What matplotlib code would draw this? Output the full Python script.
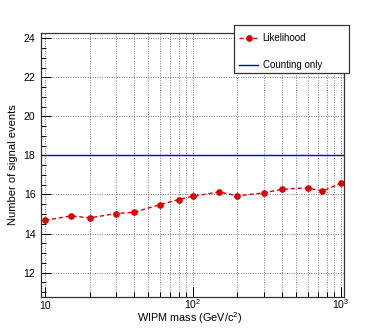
import numpy as np
import matplotlib
matplotlib.use("Agg")
import matplotlib.pyplot as plt
from matplotlib.ticker import LogLocator, MultipleLocator, FixedLocator, FixedFormatter, NullFormatter
from matplotlib.lines import Line2D
from matplotlib.patches import Rectangle

plt.rcParams['font.family'] = ['Liberation Sans', 'DejaVu Sans']
plt.rcParams['mathtext.fontset'] = 'custom'
plt.rcParams['mathtext.rm'] = 'Liberation Sans'

# 数据
mass = [10, 15, 20, 30, 40, 60, 80, 100, 150, 200, 300, 400, 600, 750, 1000]
likelihood = [14.68, 14.90, 14.80, 15.02, 15.09, 15.48, 15.74, 15.91, 16.13,
              15.93, 16.08, 16.27, 16.34, 16.17, 16.58]
counting_only = 18.0
xtick_pos = [10, 100, 1000]
xtick_lab = ["10", r"$\mathrm{10^2}$", r"$\mathrm{10^3}$"]

W, H = 382, 329
fig = plt.figure(figsize=(W / 100, H / 100), dpi=100)
ax = fig.add_axes([41 / W, 1 - 297 / H, 303 / W, 264 / H])

ax.set_xscale("log")
ax.set_xlim(9.4, 1050)
ax.set_ylim(10.75, 24.27)

# 网格
ax.xaxis.set_major_locator(FixedLocator(xtick_pos))
ax.xaxis.set_major_formatter(FixedFormatter(xtick_lab))
ax.xaxis.set_minor_locator(LogLocator(base=10, subs=np.arange(2, 10)))
ax.xaxis.set_minor_formatter(NullFormatter())
ax.yaxis.set_major_locator(MultipleLocator(2))
ax.yaxis.set_minor_locator(MultipleLocator(0.5))
grid_kw = dict(color="#777777", linestyle=(0, (1, 1.5)), linewidth=0.7)
ax.grid(True, which="both", axis="x", **grid_kw)
ax.grid(True, which="major", axis="y", **grid_kw)
ax.set_axisbelow(True)

ax.axhline(counting_only, color="#0000cc", linewidth=1.0)
ax.plot(mass, likelihood, color="#dd0000", linestyle="--", dashes=(3, 2),
        linewidth=1.0, marker="o", markersize=3.8)

ax.tick_params(which="both", direction="in", labelsize=7.5, width=0.7)
ax.tick_params(which="major", length=7)
ax.tick_params(which="minor", length=3.5)
ax.tick_params(axis="x", which="major", pad=8.6)
ax.tick_params(axis="y", which="major", pad=4)
for lab in ax.get_xticklabels():
    lab.set_va("baseline")
for s in ax.spines.values():
    s.set_linewidth(0.9)
    s.set_color("#333333")

ax.set_xlabel(r"WIPM mass (GeV/c$^\mathrm{2}$)", fontsize=7.8)
ax.xaxis.set_label_coords(0.49, (297 - 318.5) / 264, transform=ax.transAxes)
ax.xaxis.label.set_va("center")
ax.set_ylabel("Number of signal events", fontsize=8)
ax.yaxis.set_label_coords((13.5 - 41) / 303, 0.5, transform=ax.transAxes)
ax.yaxis.label.set_va("center")

# 图例框（部分位于坐标轴外）
box = Rectangle((234 / W, 1 - 73 / H), 115 / W, 48 / H, transform=fig.transFigure,
                facecolor="white", edgecolor="#333333", linewidth=0.9, zorder=9)
fig.patches.append(box)

handles = [Line2D([], [], color="#dd0000", linestyle="--", dashes=(3, 2), linewidth=1.0,
                  marker="o", markersize=3.8),
           Line2D([], [], color="#0000cc", linewidth=1.0)]
leg = fig.legend(handles, ["Likelihood", "Counting only"],
                 loc="upper left", bbox_to_anchor=(236 / W, 1 - 30 / H),
                 bbox_transform=fig.transFigure, fontsize=7, frameon=False,
                 borderpad=0.3, labelspacing=1.75, handlelength=2.0, handletextpad=0.45,
                 borderaxespad=0)
leg.set_zorder(10)

fig.savefig("out.png", dpi=100)
